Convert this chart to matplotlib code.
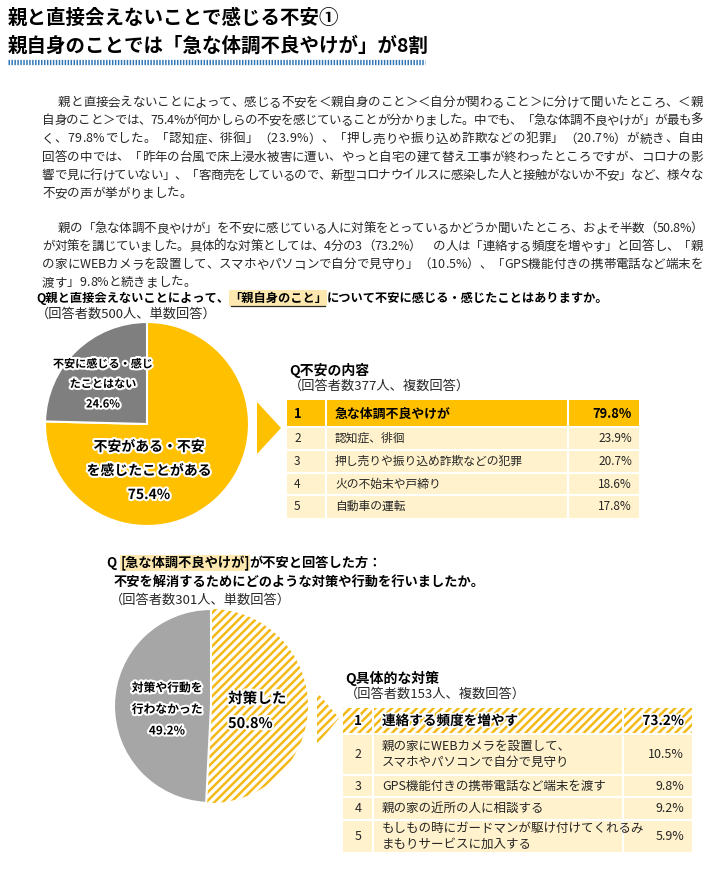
import matplotlib
matplotlib.use('Agg')
import matplotlib.pyplot as plt
from matplotlib.patches import Rectangle, Polygon
import matplotlib.patheffects as pe
from matplotlib import font_manager
from matplotlib.ft2font import FT2Font

plt.rcParams['font.family'] = ['Noto Sans CJK JP', 'DejaVu Sans']
plt.rcParams['hatch.linewidth'] = 1.8

# ---- data ----
title_lines = ['親と直接会えないことで感じる不安①',
               '親自身のことでは「急な体調不良やけが」が8割']

para1 = ['親と直接会えないことによって、感じる不安を＜親自身のこと＞＜自分が関わること＞に分けて聞いたところ、＜親',
         '自身のこと＞では、75.4%が何かしらの不安を感じていることが分かりました。中でも、「急な体調不良やけが」が最も多',
         'く、79.8%でした。「認知症、徘徊」（23.9%）、「押し売りや振り込め詐欺などの犯罪」（20.7%）が続き、自由',
         '回答の中では、「昨年の台風で床上浸水被害に遭い、やっと自宅の建て替え工事が終わったところですが、コロナの影',
         '響で見に行けていない」、「客商売をしているので、新型コロナウイルスに感染した人と接触がないか不安」など、様々な',
         '不安の声が挙がりました。']
para2 = ['親の「急な体調不良やけが」を不安に感じている人に対策をとっているかどうか聞いたところ、およそ半数（50.8%）',
         'が対策を講じていました。具体的な対策としては、4分の3（73.2%）　の人は「連絡する頻度を増やす」と回答し、「親',
         'の家にWEBカメラを設置して、スマホやパソコンで自分で見守り」（10.5%）、「GPS機能付きの携帯電話など端末を',
         '渡す」9.8%と続きました。']

q1_parts = [('Q親と直接会えないことによって、', False), ('「親自身のこと」', True),
            ('について不安に感じる・感じたことはありますか。', False)]
q1_note = '（回答者数500人、単数回答）'
pie1_labels = [['不安がある・不安', 'を感じたことがある'], ['不安に感じる・感じ', 'たことはない']]
pie1_values = [75.4, 24.6]

t1_title = 'Q不安の内容'
t1_note = '（回答者数377人、複数回答）'
t1_items = ['急な体調不良やけが', '認知症、徘徊', '押し売りや振り込め詐欺などの犯罪',
            '火の不始末や戸締り', '自動車の運転']
t1_values = [79.8, 23.9, 20.7, 18.6, 17.8]

q2_line1 = [('Q ', False), ('[急な体調不良やけが]', True), ('が不安と回答した方：', False)]
q2_line2 = '不安を解消するためにどのような対策や行動を行いましたか。'
q2_note = '（回答者数301人、単数回答）'
pie2_labels = [['対策した'], ['対策や行動を', '行わなかった']]
pie2_values = [50.8, 49.2]

t2_title = 'Q具体的な対策'
t2_note = '（回答者数153人、複数回答）'
t2_items = ['連絡する頻度を増やす', '親の家にWEBカメラを設置して、\nスマホやパソコンで自分で見守り',
            'GPS機能付きの携帯電話など端末を渡す', '親の家の近所の人に相談する',
            'もしもの時にガードマンが駆け付けてくれるみ\nまもりサービスに加入する']
t2_values = [73.2, 10.5, 9.8, 9.2, 5.9]

YELLOW = '#FFC000'
CREAM = '#FFF2CC'
GOLD = '#F4B916'
DARK = '#262626'
HILITE = '#FDE9B0'

fig = plt.figure(figsize=(7.2, 8.72), dpi=100)
ax = fig.add_axes([0, 0, 1, 1])
renderer = fig.canvas.get_renderer()

glow = [pe.withStroke(linewidth=3, foreground='white')]

# font metrics for justified paragraph text
ft = FT2Font(font_manager.findfont(font_manager.FontProperties(family='Noto Sans CJK JP')))


def justify(x0, x1, base, line, fs, fill=True):
    ft.set_size(fs, 100)
    adv = []
    for ch in line:
        g = ft.load_char(ord(ch))
        adv.append(g.linearHoriAdvance / 65536)
    gap = (x1 - x0 - sum(adv)) / (len(line) - 1) if fill else 0
    x = x0
    for ch, a in zip(line, adv):
        if not ch.isspace():
            ax.text(x, base, ch, fontsize=fs, va='baseline', ha='left', color=DARK)
        x += a + gap


def rich(x, y, parts, underline=False, **kw):
    for s, hl in parts:
        t = ax.text(x, y, s, va='center', ha='left', zorder=4, **kw)
        w = t.get_window_extent(renderer).width
        if hl:
            ax.add_patch(Rectangle((x, y - 8), w, 16, facecolor=HILITE, lw=0, zorder=2))
            if underline:
                ax.plot([x + 2, x + w - 2], [y + 8, y + 8], color=DARK, lw=0.9, zorder=5)
        x += w


def stack(x, y0, dy, lines, **kw):
    for i, s in enumerate(lines):
        ax.text(x, y0 + i * dy, s, va='center', zorder=6, **kw)


def table(col_x, top, heights, items, values, first_hatched, fs, rank_center, item_x, pct_x):
    y = top
    for i, (item, val) in enumerate(zip(items, values)):
        h = heights[i]
        first = i == 0
        for c in range(3):
            if first and first_hatched:
                cell = Rectangle((col_x[c], y), col_x[c + 1] - col_x[c], h, facecolor='white',
                                 edgecolor=GOLD, hatch='////', lw=0, zorder=2)
            else:
                cell = Rectangle((col_x[c], y), col_x[c + 1] - col_x[c], h,
                                 facecolor=YELLOW if first else CREAM, lw=0, zorder=2)
            ax.add_patch(cell)
        kw = dict(fontsize=fs + (0.8 if first else 0), fontweight='bold' if first else 'normal',
                  color='black' if first else DARK, va='center', zorder=6)
        if first and first_hatched:
            kw['path_effects'] = [pe.withStroke(linewidth=2.5, foreground='white')]
        cy = y + h / 2
        if rank_center:
            ax.text((col_x[0] + col_x[1]) / 2, cy, str(i + 1), ha='center', **kw)
        else:
            ax.text(col_x[0] + 7, cy, str(i + 1), ha='left', **kw)
        ax.text(item_x, cy, item, ha='left', linespacing=1.3, **kw)
        ax.text(pct_x, cy, f'{val}%', ha='right', **kw)
        y += h
    # white grid lines
    for xx in col_x[1:3]:
        ax.plot([xx, xx], [top, y], color='white', lw=1.5, zorder=3)
    yy = top
    for h in heights[:-1]:
        yy += h
        ax.plot([col_x[0], col_x[3]], [yy, yy], color='white', lw=1.5, zorder=3)


# ---- header ----
ax.text(8, 18, title_lines[0], fontsize=14, fontweight='bold', va='center', color='black')
ax.text(8, 46, title_lines[1], fontsize=14, fontweight='bold', va='center', color='black')
ax.plot([8, 425], [62, 62], color='#2E75B6', lw=3.8, dashes=(0.28, 0.28), solid_capstyle='butt')

# ---- paragraphs (justified) ----
for i, line in enumerate(para1):
    justify(58 if i == 0 else 42, 703, 106 + i * 18.2, line, 9, fill=i < len(para1) - 1)
for i, line in enumerate(para2):
    justify(58 if i == 0 else 42, 703, 232 + i * 18, line, 9, fill=i < len(para2) - 1)

# ---- question 1 + pie ----
rich(36, 298, q1_parts, underline=True, fontsize=8.8, fontweight='bold', color='black')
ax.text(36, 314, q1_note, fontsize=9.5, va='center', color=DARK)

ax.pie(pie1_values, colors=[YELLOW, '#7F7F7F'], startangle=-90, counterclock=True,
       center=(147, 424), radius=102, wedgeprops=dict(edgecolor='white', linewidth=1.5))
stack(149, 447, 24, pie1_labels[0] + [f'{pie1_values[0]}%'], ha='center', fontsize=10,
      fontweight='bold', color='black', path_effects=glow)
stack(103, 364, 20, pie1_labels[1] + [f'{pie1_values[1]}%'], ha='center', fontsize=8,
      fontweight='bold', color='black', path_effects=glow)

ax.add_patch(Polygon([(257, 402), (281, 428), (257, 454)], closed=True, facecolor=YELLOW, lw=0))

ax.text(289, 370, t1_title, fontsize=10, fontweight='bold', va='center', color='black')
ax.text(289, 386, t1_note, fontsize=9.5, va='center', color=DARK)
table([287, 326, 568, 639], 400, [27, 23, 23, 22, 23], t1_items, t1_values, False, 8.5,
      False, 335, 632)

# ---- question 2 + pie ----
rich(107, 563, q2_line1, fontsize=9.5, fontweight='bold', color='black')
ax.text(114, 582, q2_line2, fontsize=9.5, fontweight='bold', va='center', color='black')
ax.text(110, 600, q2_note, fontsize=9.5, va='center', color=DARK)

w2, _ = ax.pie(pie2_values, colors=['white', '#A6A6A6'], startangle=-90, counterclock=True,
               center=(211, 706), radius=97, wedgeprops=dict(edgecolor='white', linewidth=1.5))
w2[0].set_edgecolor(GOLD)
w2[0].set_hatch('////')
w2[0].set_linewidth(0)
stack(228, 698, 25, pie2_labels[0] + [f'{pie2_values[0]}%'], ha='left', fontsize=10.5,
      fontweight='bold', color='black', path_effects=glow)
stack(167, 688, 21.5, pie2_labels[1] + [f'{pie2_values[1]}%'], ha='center', fontsize=8.5,
      fontweight='bold', color='black', path_effects=glow)

ax.add_patch(Polygon([(317, 692), (339, 718), (317, 745)], closed=True, facecolor='white',
                     edgecolor=GOLD, hatch='////', lw=0))

ax.text(345, 678, t2_title, fontsize=10, fontweight='bold', va='center', color='black')
ax.text(345, 694, t2_note, fontsize=9.5, va='center', color=DARK)
table([343, 373, 623, 692], 708, [26, 41, 22, 23, 32], t2_items, t2_values, True, 9,
      True, 382, 684)

ax.set_xlim(0, 720)
ax.set_ylim(872, 0)
ax.axis('off')

fig.savefig('out.png', dpi=100, facecolor='white')
